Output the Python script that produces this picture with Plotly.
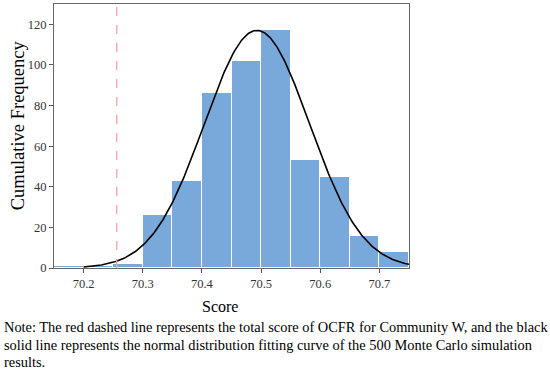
import numpy as np
import plotly.graph_objects as go

# Histogram bins (left edges) and counts
bin_left = [70.15, 70.20, 70.25, 70.30, 70.35, 70.40, 70.45, 70.50, 70.55, 70.60, 70.65, 70.70]
counts = [1, 1, 2, 26, 43, 86, 102, 117, 53, 45, 16, 8]
bin_width = 0.05

# Normal fitting curve parameters
fit_mean = 70.493
fit_sd = 0.089
fit_peak = 117
curve_start = 70.20
curve_end = 70.76

# Red dashed reference line (OCFR total score, Community W)
ocfr_score = 70.256

x_ticks = [70.2, 70.3, 70.4, 70.5, 70.6, 70.7]
y_ticks = [0, 20, 40, 60, 80, 100, 120]

note_lines = [
    "Note: The red dashed line represents the total score of OCFR for Community W, and the black",
    "solid line represents the normal distribution fitting curve of the 500 Monte Carlo simulation",
    "results.",
]

FONT = "Liberation Serif"
PW, PH = 355, 264.5  # plot area size in px (for paper coords)

centers = [b + bin_width / 2 for b in bin_left]
cx = np.linspace(curve_start, curve_end, 300)
cy = fit_peak * np.exp(-0.5 * ((cx - fit_mean) / fit_sd) ** 2)

fig = go.Figure()
fig.add_trace(go.Bar(
    x=centers, y=counts, width=bin_width,
    marker=dict(color="#79a8db", line=dict(color="white", width=1)),
    showlegend=False,
))
fig.add_trace(go.Scatter(
    x=cx, y=cy, mode="lines",
    line=dict(color="black", width=1.6),
    showlegend=False,
))
fig.add_shape(type="line", x0=ocfr_score, x1=ocfr_score, y0=0, y1=1,
              xref="x", yref="paper",
              line=dict(color="#f4a3a3", width=1.3, dash="dash"))

for i, t in enumerate(note_lines):
    fig.add_annotation(text=t, xref="paper", yref="paper", x=(2 - 54) / PW,
                       y=-(327.5 - 268 + i * 17.2) / PH,
                       xanchor="left", yanchor="middle", showarrow=False,
                       font=dict(family=FONT, size=14.4, color="black"))

fig.add_annotation(text="Score", xref="paper", yref="paper", x=(220 - 54) / PW,
                   y=-(307 - 268) / PH, xanchor="center", yanchor="middle", showarrow=False,
                   font=dict(family=FONT, size=16, color="black"))
fig.add_annotation(text="Cumulative Frequency", xref="paper", yref="paper", x=(18 - 54) / PW,
                   y=(268 - 125) / PH, xanchor="center", yanchor="middle", showarrow=False,
                   textangle=-90, font=dict(family=FONT, size=18.5, color="black"))

fig.update_layout(
    width=550, height=371,
    margin=dict(l=54, r=141, t=3.5, b=103),
    paper_bgcolor="white", plot_bgcolor="white",
    bargap=0,
    font=dict(family=FONT, color="#333333"),
    xaxis=dict(range=[70.15, 70.75], tickvals=x_ticks, ticktext=[f"{v:.1f}" for v in x_ticks],
               ticks="outside", ticklen=4, tickcolor="#555", showline=True, linecolor="#666",
               linewidth=1, mirror=True, showgrid=False, zeroline=False,
               tickfont=dict(family=FONT, size=12.5, color="#333")),
    yaxis=dict(range=[0, 130], tickvals=y_ticks, ticks="outside", ticklen=4, tickcolor="#555",
               showline=True, linecolor="#666", linewidth=1, mirror=True, showgrid=False,
               zeroline=False, tickfont=dict(family=FONT, size=12.5, color="#333")),
)

fig.write_html("out.html", config={"displayModeBar": False},
               post_script="document.body.style.margin='0';document.body.style.overflow='hidden';")
